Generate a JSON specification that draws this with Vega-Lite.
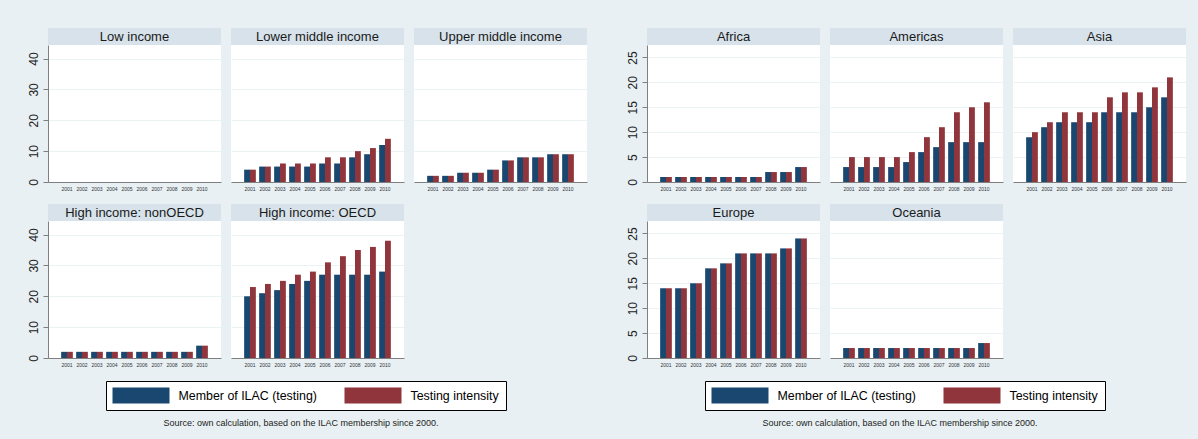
{
 "$schema": "https://vega.github.io/schema/vega-lite/v6.json",
 "background": "#e8f0f3",
 "padding": {"left": 26, "top": 28, "right": 12, "bottom": 13},
 "spacing": 39,
 "config": {
  "font": "Liberation Sans",
  "view": {"stroke": null, "fill": "white"},
  "range": {"category": ["#1a476f", "#90353b"]},
  "axisX": {"labelFontSize": 5, "ticks": false, "labelPadding": 4, "labelAngle": 0, "domainColor": "#7f7f7f", "labelColor": "#333333", "grid": false},
  "axisY": {"gridColor": "#eaf2f3", "domainColor": "#7f7f7f", "tickColor": "#7f7f7f", "tickSize": 5, "labelFontSize": 12, "labelPadding": 3, "labelColor": "#222222"},
  "legend": {"strokeColor": "#000000", "fillColor": "white", "padding": 6.5, "symbolType": "M-1,-1H6.125V1H-1Z", "symbolSize": 256, "symbolStrokeWidth": 0, "symbolOpacity": 1, "labelFontSize": 12.4, "labelColor": "#000000", "labelOffset": 50, "columnPadding": 27, "labelLimit": 300},
  "title": {"fontSize": 9, "fontWeight": "normal", "color": "#222222"}
 },
 "datasets": {"ilac": [
  {"panel": "Low income", "year": "2001", "Member of ILAC (testing)": 0, "Testing intensity": 0},
  {"panel": "Low income", "year": "2002", "Member of ILAC (testing)": 0, "Testing intensity": 0},
  {"panel": "Low income", "year": "2003", "Member of ILAC (testing)": 0, "Testing intensity": 0},
  {"panel": "Low income", "year": "2004", "Member of ILAC (testing)": 0, "Testing intensity": 0},
  {"panel": "Low income", "year": "2005", "Member of ILAC (testing)": 0, "Testing intensity": 0},
  {"panel": "Low income", "year": "2006", "Member of ILAC (testing)": 0, "Testing intensity": 0},
  {"panel": "Low income", "year": "2007", "Member of ILAC (testing)": 0, "Testing intensity": 0},
  {"panel": "Low income", "year": "2008", "Member of ILAC (testing)": 0, "Testing intensity": 0},
  {"panel": "Low income", "year": "2009", "Member of ILAC (testing)": 0, "Testing intensity": 0},
  {"panel": "Low income", "year": "2010", "Member of ILAC (testing)": 0, "Testing intensity": 0},
  {"panel": "Lower middle income", "year": "2001", "Member of ILAC (testing)": 4, "Testing intensity": 4},
  {"panel": "Lower middle income", "year": "2002", "Member of ILAC (testing)": 5, "Testing intensity": 5},
  {"panel": "Lower middle income", "year": "2003", "Member of ILAC (testing)": 5, "Testing intensity": 6},
  {"panel": "Lower middle income", "year": "2004", "Member of ILAC (testing)": 5, "Testing intensity": 6},
  {"panel": "Lower middle income", "year": "2005", "Member of ILAC (testing)": 5, "Testing intensity": 6},
  {"panel": "Lower middle income", "year": "2006", "Member of ILAC (testing)": 6, "Testing intensity": 8},
  {"panel": "Lower middle income", "year": "2007", "Member of ILAC (testing)": 6, "Testing intensity": 8},
  {"panel": "Lower middle income", "year": "2008", "Member of ILAC (testing)": 8, "Testing intensity": 10},
  {"panel": "Lower middle income", "year": "2009", "Member of ILAC (testing)": 9, "Testing intensity": 11},
  {"panel": "Lower middle income", "year": "2010", "Member of ILAC (testing)": 12, "Testing intensity": 14},
  {"panel": "Upper middle income", "year": "2001", "Member of ILAC (testing)": 2, "Testing intensity": 2},
  {"panel": "Upper middle income", "year": "2002", "Member of ILAC (testing)": 2, "Testing intensity": 2},
  {"panel": "Upper middle income", "year": "2003", "Member of ILAC (testing)": 3, "Testing intensity": 3},
  {"panel": "Upper middle income", "year": "2004", "Member of ILAC (testing)": 3, "Testing intensity": 3},
  {"panel": "Upper middle income", "year": "2005", "Member of ILAC (testing)": 4, "Testing intensity": 4},
  {"panel": "Upper middle income", "year": "2006", "Member of ILAC (testing)": 7, "Testing intensity": 7},
  {"panel": "Upper middle income", "year": "2007", "Member of ILAC (testing)": 8, "Testing intensity": 8},
  {"panel": "Upper middle income", "year": "2008", "Member of ILAC (testing)": 8, "Testing intensity": 8},
  {"panel": "Upper middle income", "year": "2009", "Member of ILAC (testing)": 9, "Testing intensity": 9},
  {"panel": "Upper middle income", "year": "2010", "Member of ILAC (testing)": 9, "Testing intensity": 9},
  {"panel": "High income: nonOECD", "year": "2001", "Member of ILAC (testing)": 2, "Testing intensity": 2},
  {"panel": "High income: nonOECD", "year": "2002", "Member of ILAC (testing)": 2, "Testing intensity": 2},
  {"panel": "High income: nonOECD", "year": "2003", "Member of ILAC (testing)": 2, "Testing intensity": 2},
  {"panel": "High income: nonOECD", "year": "2004", "Member of ILAC (testing)": 2, "Testing intensity": 2},
  {"panel": "High income: nonOECD", "year": "2005", "Member of ILAC (testing)": 2, "Testing intensity": 2},
  {"panel": "High income: nonOECD", "year": "2006", "Member of ILAC (testing)": 2, "Testing intensity": 2},
  {"panel": "High income: nonOECD", "year": "2007", "Member of ILAC (testing)": 2, "Testing intensity": 2},
  {"panel": "High income: nonOECD", "year": "2008", "Member of ILAC (testing)": 2, "Testing intensity": 2},
  {"panel": "High income: nonOECD", "year": "2009", "Member of ILAC (testing)": 2, "Testing intensity": 2},
  {"panel": "High income: nonOECD", "year": "2010", "Member of ILAC (testing)": 4, "Testing intensity": 4},
  {"panel": "High income: OECD", "year": "2001", "Member of ILAC (testing)": 20, "Testing intensity": 23},
  {"panel": "High income: OECD", "year": "2002", "Member of ILAC (testing)": 21, "Testing intensity": 24},
  {"panel": "High income: OECD", "year": "2003", "Member of ILAC (testing)": 22, "Testing intensity": 25},
  {"panel": "High income: OECD", "year": "2004", "Member of ILAC (testing)": 24, "Testing intensity": 27},
  {"panel": "High income: OECD", "year": "2005", "Member of ILAC (testing)": 25, "Testing intensity": 28},
  {"panel": "High income: OECD", "year": "2006", "Member of ILAC (testing)": 27, "Testing intensity": 31},
  {"panel": "High income: OECD", "year": "2007", "Member of ILAC (testing)": 27, "Testing intensity": 33},
  {"panel": "High income: OECD", "year": "2008", "Member of ILAC (testing)": 27, "Testing intensity": 35},
  {"panel": "High income: OECD", "year": "2009", "Member of ILAC (testing)": 27, "Testing intensity": 36},
  {"panel": "High income: OECD", "year": "2010", "Member of ILAC (testing)": 28, "Testing intensity": 38},
  {"panel": "Africa", "year": "2001", "Member of ILAC (testing)": 1, "Testing intensity": 1},
  {"panel": "Africa", "year": "2002", "Member of ILAC (testing)": 1, "Testing intensity": 1},
  {"panel": "Africa", "year": "2003", "Member of ILAC (testing)": 1, "Testing intensity": 1},
  {"panel": "Africa", "year": "2004", "Member of ILAC (testing)": 1, "Testing intensity": 1},
  {"panel": "Africa", "year": "2005", "Member of ILAC (testing)": 1, "Testing intensity": 1},
  {"panel": "Africa", "year": "2006", "Member of ILAC (testing)": 1, "Testing intensity": 1},
  {"panel": "Africa", "year": "2007", "Member of ILAC (testing)": 1, "Testing intensity": 1},
  {"panel": "Africa", "year": "2008", "Member of ILAC (testing)": 2, "Testing intensity": 2},
  {"panel": "Africa", "year": "2009", "Member of ILAC (testing)": 2, "Testing intensity": 2},
  {"panel": "Africa", "year": "2010", "Member of ILAC (testing)": 3, "Testing intensity": 3},
  {"panel": "Americas", "year": "2001", "Member of ILAC (testing)": 3, "Testing intensity": 5},
  {"panel": "Americas", "year": "2002", "Member of ILAC (testing)": 3, "Testing intensity": 5},
  {"panel": "Americas", "year": "2003", "Member of ILAC (testing)": 3, "Testing intensity": 5},
  {"panel": "Americas", "year": "2004", "Member of ILAC (testing)": 3, "Testing intensity": 5},
  {"panel": "Americas", "year": "2005", "Member of ILAC (testing)": 4, "Testing intensity": 6},
  {"panel": "Americas", "year": "2006", "Member of ILAC (testing)": 6, "Testing intensity": 9},
  {"panel": "Americas", "year": "2007", "Member of ILAC (testing)": 7, "Testing intensity": 11},
  {"panel": "Americas", "year": "2008", "Member of ILAC (testing)": 8, "Testing intensity": 14},
  {"panel": "Americas", "year": "2009", "Member of ILAC (testing)": 8, "Testing intensity": 15},
  {"panel": "Americas", "year": "2010", "Member of ILAC (testing)": 8, "Testing intensity": 16},
  {"panel": "Asia", "year": "2001", "Member of ILAC (testing)": 9, "Testing intensity": 10},
  {"panel": "Asia", "year": "2002", "Member of ILAC (testing)": 11, "Testing intensity": 12},
  {"panel": "Asia", "year": "2003", "Member of ILAC (testing)": 12, "Testing intensity": 14},
  {"panel": "Asia", "year": "2004", "Member of ILAC (testing)": 12, "Testing intensity": 14},
  {"panel": "Asia", "year": "2005", "Member of ILAC (testing)": 12, "Testing intensity": 14},
  {"panel": "Asia", "year": "2006", "Member of ILAC (testing)": 14, "Testing intensity": 17},
  {"panel": "Asia", "year": "2007", "Member of ILAC (testing)": 14, "Testing intensity": 18},
  {"panel": "Asia", "year": "2008", "Member of ILAC (testing)": 14, "Testing intensity": 18},
  {"panel": "Asia", "year": "2009", "Member of ILAC (testing)": 15, "Testing intensity": 19},
  {"panel": "Asia", "year": "2010", "Member of ILAC (testing)": 17, "Testing intensity": 21},
  {"panel": "Europe", "year": "2001", "Member of ILAC (testing)": 14, "Testing intensity": 14},
  {"panel": "Europe", "year": "2002", "Member of ILAC (testing)": 14, "Testing intensity": 14},
  {"panel": "Europe", "year": "2003", "Member of ILAC (testing)": 15, "Testing intensity": 15},
  {"panel": "Europe", "year": "2004", "Member of ILAC (testing)": 18, "Testing intensity": 18},
  {"panel": "Europe", "year": "2005", "Member of ILAC (testing)": 19, "Testing intensity": 19},
  {"panel": "Europe", "year": "2006", "Member of ILAC (testing)": 21, "Testing intensity": 21},
  {"panel": "Europe", "year": "2007", "Member of ILAC (testing)": 21, "Testing intensity": 21},
  {"panel": "Europe", "year": "2008", "Member of ILAC (testing)": 21, "Testing intensity": 21},
  {"panel": "Europe", "year": "2009", "Member of ILAC (testing)": 22, "Testing intensity": 22},
  {"panel": "Europe", "year": "2010", "Member of ILAC (testing)": 24, "Testing intensity": 24},
  {"panel": "Oceania", "year": "2001", "Member of ILAC (testing)": 2, "Testing intensity": 2},
  {"panel": "Oceania", "year": "2002", "Member of ILAC (testing)": 2, "Testing intensity": 2},
  {"panel": "Oceania", "year": "2003", "Member of ILAC (testing)": 2, "Testing intensity": 2},
  {"panel": "Oceania", "year": "2004", "Member of ILAC (testing)": 2, "Testing intensity": 2},
  {"panel": "Oceania", "year": "2005", "Member of ILAC (testing)": 2, "Testing intensity": 2},
  {"panel": "Oceania", "year": "2006", "Member of ILAC (testing)": 2, "Testing intensity": 2},
  {"panel": "Oceania", "year": "2007", "Member of ILAC (testing)": 2, "Testing intensity": 2},
  {"panel": "Oceania", "year": "2008", "Member of ILAC (testing)": 2, "Testing intensity": 2},
  {"panel": "Oceania", "year": "2009", "Member of ILAC (testing)": 2, "Testing intensity": 2},
  {"panel": "Oceania", "year": "2010", "Member of ILAC (testing)": 3, "Testing intensity": 3}
 ]},
 "resolve": {"scale": {"color": "independent"}, "legend": {"color": "independent"}},
 "hconcat": [
  {
   "title": {"text": "Source: own calculation, based on the ILAC membership since 2000.", "orient": "bottom", "anchor": "middle", "offset": 8, "dx": -6},
   "spacing": 13,
   "vconcat": [
    {"spacing": 10, "hconcat": [
     {"spacing": 0, "bounds": "flush", "vconcat": [
      {"width": 173, "height": 17, "view": {"fill": "#d7e2ea", "stroke": null}, "data": {"values": [{"label": "Low income"}]}, "mark": {"type": "text", "fontSize": 13, "color": "#1a1a1a"}, "encoding": {"text": {"field": "label", "type": "nominal"}}},
      {"width": 173, "height": 137, "data": {"name": "ilac"}, "transform": [{"filter": {"field": "panel", "equal": "Low income"}}, {"fold": ["Member of ILAC (testing)", "Testing intensity"], "as": ["series", "value"]}], "mark": "bar",
       "encoding": {
        "x": {"field": "year", "type": "ordinal", "title": null, "scale": {"paddingInner": 0.22, "paddingOuter": 0.876}},
        "xOffset": {"field": "series", "type": "nominal", "scale": {"paddingInner": 0, "paddingOuter": 0}},
        "y": {"field": "value", "type": "quantitative", "title": null, "scale": {"domain": [0, 44.4], "nice": false}, "axis": {"values": [0, 10, 20, 30, 40], "labelAngle": -90}},
        "color": {"field": "series", "type": "nominal", "legend": {"title": null, "orient": "none", "legendX": 58, "legendY": 353, "direction": "horizontal"}}
       }}
     ]},
     {"spacing": 0, "bounds": "flush", "vconcat": [
      {"width": 173, "height": 17, "view": {"fill": "#d7e2ea", "stroke": null}, "data": {"values": [{"label": "Lower middle income"}]}, "mark": {"type": "text", "fontSize": 13, "color": "#1a1a1a"}, "encoding": {"text": {"field": "label", "type": "nominal"}}},
      {"width": 173, "height": 137, "data": {"name": "ilac"}, "transform": [{"filter": {"field": "panel", "equal": "Lower middle income"}}, {"fold": ["Member of ILAC (testing)", "Testing intensity"], "as": ["series", "value"]}], "mark": "bar",
       "encoding": {
        "x": {"field": "year", "type": "ordinal", "title": null, "scale": {"paddingInner": 0.22, "paddingOuter": 0.876}},
        "xOffset": {"field": "series", "type": "nominal", "scale": {"paddingInner": 0, "paddingOuter": 0}},
        "y": {"field": "value", "type": "quantitative", "title": null, "scale": {"domain": [0, 44.4], "nice": false}, "axis": {"values": [0, 10, 20, 30, 40], "labels": false, "ticks": false, "domain": false}},
        "color": {"field": "series", "type": "nominal", "legend": {"title": null, "orient": "none", "legendX": 58, "legendY": 353, "direction": "horizontal"}}
       }}
     ]},
     {"spacing": 0, "bounds": "flush", "vconcat": [
      {"width": 173, "height": 17, "view": {"fill": "#d7e2ea", "stroke": null}, "data": {"values": [{"label": "Upper middle income"}]}, "mark": {"type": "text", "fontSize": 13, "color": "#1a1a1a"}, "encoding": {"text": {"field": "label", "type": "nominal"}}},
      {"width": 173, "height": 137, "data": {"name": "ilac"}, "transform": [{"filter": {"field": "panel", "equal": "Upper middle income"}}, {"fold": ["Member of ILAC (testing)", "Testing intensity"], "as": ["series", "value"]}], "mark": "bar",
       "encoding": {
        "x": {"field": "year", "type": "ordinal", "title": null, "scale": {"paddingInner": 0.22, "paddingOuter": 0.876}},
        "xOffset": {"field": "series", "type": "nominal", "scale": {"paddingInner": 0, "paddingOuter": 0}},
        "y": {"field": "value", "type": "quantitative", "title": null, "scale": {"domain": [0, 44.4], "nice": false}, "axis": {"values": [0, 10, 20, 30, 40], "labels": false, "ticks": false, "domain": false}},
        "color": {"field": "series", "type": "nominal", "legend": {"title": null, "orient": "none", "legendX": 58, "legendY": 353, "direction": "horizontal"}}
       }}
     ]}
    ]},
    {"spacing": 10, "hconcat": [
     {"spacing": 0, "bounds": "flush", "vconcat": [
      {"width": 173, "height": 17, "view": {"fill": "#d7e2ea", "stroke": null}, "data": {"values": [{"label": "High income: nonOECD"}]}, "mark": {"type": "text", "fontSize": 13, "color": "#1a1a1a"}, "encoding": {"text": {"field": "label", "type": "nominal"}}},
      {"width": 173, "height": 137, "data": {"name": "ilac"}, "transform": [{"filter": {"field": "panel", "equal": "High income: nonOECD"}}, {"fold": ["Member of ILAC (testing)", "Testing intensity"], "as": ["series", "value"]}], "mark": "bar",
       "encoding": {
        "x": {"field": "year", "type": "ordinal", "title": null, "scale": {"paddingInner": 0.22, "paddingOuter": 0.876}},
        "xOffset": {"field": "series", "type": "nominal", "scale": {"paddingInner": 0, "paddingOuter": 0}},
        "y": {"field": "value", "type": "quantitative", "title": null, "scale": {"domain": [0, 44.4], "nice": false}, "axis": {"values": [0, 10, 20, 30, 40], "labelAngle": -90}},
        "color": {"field": "series", "type": "nominal", "legend": {"title": null, "orient": "none", "legendX": 58, "legendY": 353, "direction": "horizontal"}}
       }}
     ]},
     {"spacing": 0, "bounds": "flush", "vconcat": [
      {"width": 173, "height": 17, "view": {"fill": "#d7e2ea", "stroke": null}, "data": {"values": [{"label": "High income: OECD"}]}, "mark": {"type": "text", "fontSize": 13, "color": "#1a1a1a"}, "encoding": {"text": {"field": "label", "type": "nominal"}}},
      {"width": 173, "height": 137, "data": {"name": "ilac"}, "transform": [{"filter": {"field": "panel", "equal": "High income: OECD"}}, {"fold": ["Member of ILAC (testing)", "Testing intensity"], "as": ["series", "value"]}], "mark": "bar",
       "encoding": {
        "x": {"field": "year", "type": "ordinal", "title": null, "scale": {"paddingInner": 0.22, "paddingOuter": 0.876}},
        "xOffset": {"field": "series", "type": "nominal", "scale": {"paddingInner": 0, "paddingOuter": 0}},
        "y": {"field": "value", "type": "quantitative", "title": null, "scale": {"domain": [0, 44.4], "nice": false}, "axis": {"values": [0, 10, 20, 30, 40], "labels": false, "ticks": false, "domain": false}},
        "color": {"field": "series", "type": "nominal", "legend": {"title": null, "orient": "none", "legendX": 58, "legendY": 353, "direction": "horizontal"}}
       }}
     ]}
    ]}
   ]
  },
  {
   "title": {"text": "Source: own calculation, based on the ILAC membership since 2000.", "orient": "bottom", "anchor": "middle", "offset": 8, "dx": -6},
   "spacing": 13,
   "vconcat": [
    {"spacing": 10, "hconcat": [
     {"spacing": 0, "bounds": "flush", "vconcat": [
      {"width": 173, "height": 17, "view": {"fill": "#d7e2ea", "stroke": null}, "data": {"values": [{"label": "Africa"}]}, "mark": {"type": "text", "fontSize": 13, "color": "#1a1a1a"}, "encoding": {"text": {"field": "label", "type": "nominal"}}},
      {"width": 173, "height": 137, "data": {"name": "ilac"}, "transform": [{"filter": {"field": "panel", "equal": "Africa"}}, {"fold": ["Member of ILAC (testing)", "Testing intensity"], "as": ["series", "value"]}], "mark": "bar",
       "encoding": {
        "x": {"field": "year", "type": "ordinal", "title": null, "scale": {"paddingInner": 0.22, "paddingOuter": 0.876}},
        "xOffset": {"field": "series", "type": "nominal", "scale": {"paddingInner": 0, "paddingOuter": 0}},
        "y": {"field": "value", "type": "quantitative", "title": null, "scale": {"domain": [0, 27.5], "nice": false}, "axis": {"values": [0, 5, 10, 15, 20, 25], "labelAngle": -90}},
        "color": {"field": "series", "type": "nominal", "legend": {"title": null, "orient": "none", "legendX": 58, "legendY": 353, "direction": "horizontal"}}
       }}
     ]},
     {"spacing": 0, "bounds": "flush", "vconcat": [
      {"width": 173, "height": 17, "view": {"fill": "#d7e2ea", "stroke": null}, "data": {"values": [{"label": "Americas"}]}, "mark": {"type": "text", "fontSize": 13, "color": "#1a1a1a"}, "encoding": {"text": {"field": "label", "type": "nominal"}}},
      {"width": 173, "height": 137, "data": {"name": "ilac"}, "transform": [{"filter": {"field": "panel", "equal": "Americas"}}, {"fold": ["Member of ILAC (testing)", "Testing intensity"], "as": ["series", "value"]}], "mark": "bar",
       "encoding": {
        "x": {"field": "year", "type": "ordinal", "title": null, "scale": {"paddingInner": 0.22, "paddingOuter": 0.876}},
        "xOffset": {"field": "series", "type": "nominal", "scale": {"paddingInner": 0, "paddingOuter": 0}},
        "y": {"field": "value", "type": "quantitative", "title": null, "scale": {"domain": [0, 27.5], "nice": false}, "axis": {"values": [0, 5, 10, 15, 20, 25], "labels": false, "ticks": false, "domain": false}},
        "color": {"field": "series", "type": "nominal", "legend": {"title": null, "orient": "none", "legendX": 58, "legendY": 353, "direction": "horizontal"}}
       }}
     ]},
     {"spacing": 0, "bounds": "flush", "vconcat": [
      {"width": 173, "height": 17, "view": {"fill": "#d7e2ea", "stroke": null}, "data": {"values": [{"label": "Asia"}]}, "mark": {"type": "text", "fontSize": 13, "color": "#1a1a1a"}, "encoding": {"text": {"field": "label", "type": "nominal"}}},
      {"width": 173, "height": 137, "data": {"name": "ilac"}, "transform": [{"filter": {"field": "panel", "equal": "Asia"}}, {"fold": ["Member of ILAC (testing)", "Testing intensity"], "as": ["series", "value"]}], "mark": "bar",
       "encoding": {
        "x": {"field": "year", "type": "ordinal", "title": null, "scale": {"paddingInner": 0.22, "paddingOuter": 0.876}},
        "xOffset": {"field": "series", "type": "nominal", "scale": {"paddingInner": 0, "paddingOuter": 0}},
        "y": {"field": "value", "type": "quantitative", "title": null, "scale": {"domain": [0, 27.5], "nice": false}, "axis": {"values": [0, 5, 10, 15, 20, 25], "labels": false, "ticks": false, "domain": false}},
        "color": {"field": "series", "type": "nominal", "legend": {"title": null, "orient": "none", "legendX": 58, "legendY": 353, "direction": "horizontal"}}
       }}
     ]}
    ]},
    {"spacing": 10, "hconcat": [
     {"spacing": 0, "bounds": "flush", "vconcat": [
      {"width": 173, "height": 17, "view": {"fill": "#d7e2ea", "stroke": null}, "data": {"values": [{"label": "Europe"}]}, "mark": {"type": "text", "fontSize": 13, "color": "#1a1a1a"}, "encoding": {"text": {"field": "label", "type": "nominal"}}},
      {"width": 173, "height": 137, "data": {"name": "ilac"}, "transform": [{"filter": {"field": "panel", "equal": "Europe"}}, {"fold": ["Member of ILAC (testing)", "Testing intensity"], "as": ["series", "value"]}], "mark": "bar",
       "encoding": {
        "x": {"field": "year", "type": "ordinal", "title": null, "scale": {"paddingInner": 0.22, "paddingOuter": 0.876}},
        "xOffset": {"field": "series", "type": "nominal", "scale": {"paddingInner": 0, "paddingOuter": 0}},
        "y": {"field": "value", "type": "quantitative", "title": null, "scale": {"domain": [0, 27.5], "nice": false}, "axis": {"values": [0, 5, 10, 15, 20, 25], "labelAngle": -90}},
        "color": {"field": "series", "type": "nominal", "legend": {"title": null, "orient": "none", "legendX": 58, "legendY": 353, "direction": "horizontal"}}
       }}
     ]},
     {"spacing": 0, "bounds": "flush", "vconcat": [
      {"width": 173, "height": 17, "view": {"fill": "#d7e2ea", "stroke": null}, "data": {"values": [{"label": "Oceania"}]}, "mark": {"type": "text", "fontSize": 13, "color": "#1a1a1a"}, "encoding": {"text": {"field": "label", "type": "nominal"}}},
      {"width": 173, "height": 137, "data": {"name": "ilac"}, "transform": [{"filter": {"field": "panel", "equal": "Oceania"}}, {"fold": ["Member of ILAC (testing)", "Testing intensity"], "as": ["series", "value"]}], "mark": "bar",
       "encoding": {
        "x": {"field": "year", "type": "ordinal", "title": null, "scale": {"paddingInner": 0.22, "paddingOuter": 0.876}},
        "xOffset": {"field": "series", "type": "nominal", "scale": {"paddingInner": 0, "paddingOuter": 0}},
        "y": {"field": "value", "type": "quantitative", "title": null, "scale": {"domain": [0, 27.5], "nice": false}, "axis": {"values": [0, 5, 10, 15, 20, 25], "labels": false, "ticks": false, "domain": false}},
        "color": {"field": "series", "type": "nominal", "legend": {"title": null, "orient": "none", "legendX": 58, "legendY": 353, "direction": "horizontal"}}
       }}
     ]}
    ]}
   ]
  }
 ]
}
